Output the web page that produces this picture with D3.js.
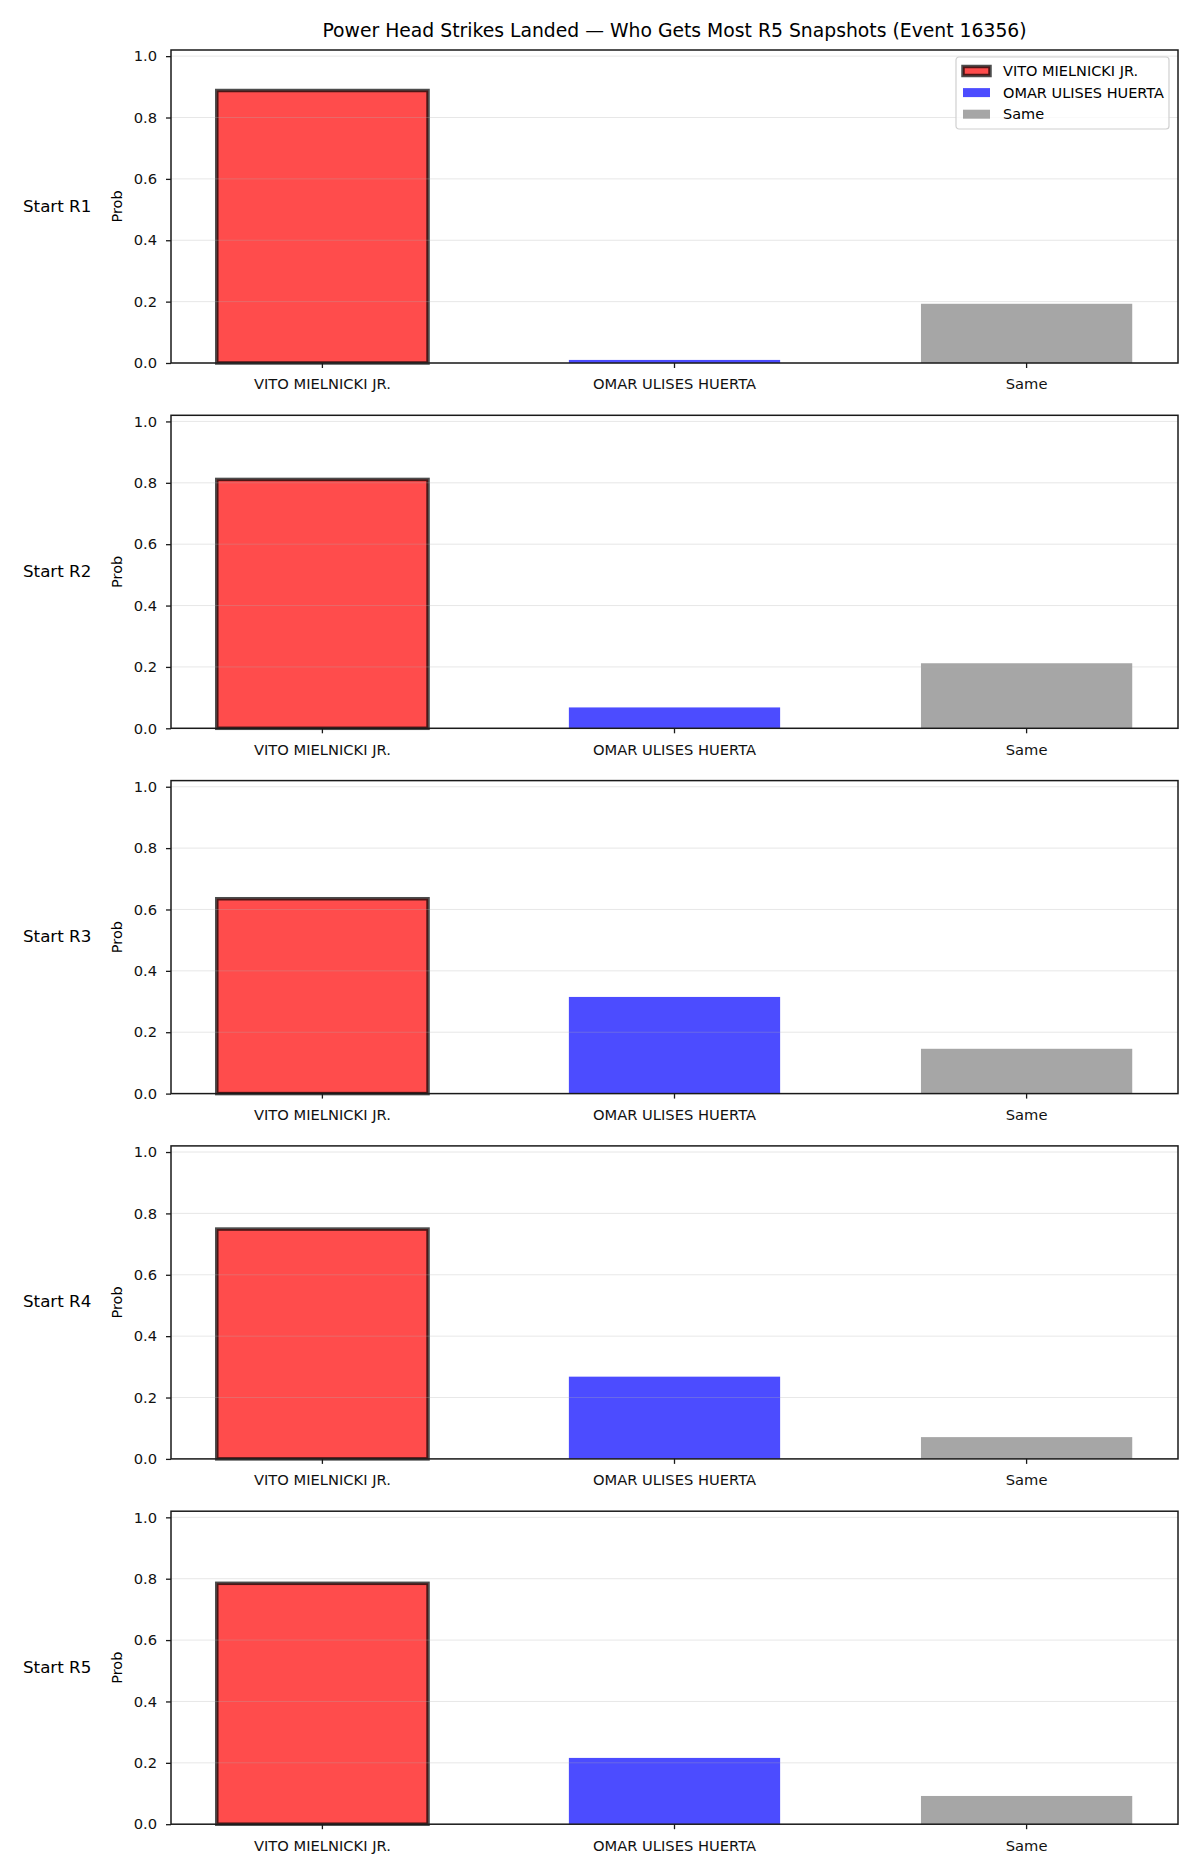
<!DOCTYPE html>
<html>
<head>
<meta charset="utf-8">
<script src="https://cdn.jsdelivr.net/npm/d3@7"></script>
<style>
  body { margin: 0; background: #fff; }
  svg { display: block; font-family: "DejaVu Sans", sans-serif; }
</style>
</head>
<body>
<svg id="chart"></svg>
<script>
const categories = ["VITO MIELNICKI JR.", "OMAR ULISES HUERTA", "Same"];
const rowLabels = ["Start R1", "Start R2", "Start R3", "Start R4", "Start R5"];
const vitoProb = [0.888, 0.811, 0.635, 0.749, 0.785];
const omarProb = [0.010, 0.068, 0.315, 0.268, 0.216];
const sameProb = [0.193, 0.212, 0.146, 0.071, 0.092];
const yTicks = [0, 0.2, 0.4, 0.6, 0.8, 1.0];
const titleText = "Power Head Strikes Landed \u2014 Who Gets Most R5 Snapshots (Event 16356)";

const width = 1200;
const height = 1875;

const axLeft = 171;
const axRight = 1178;
const axTop = 50;
const axHeight = 313;
const pitch = 365.3;

const fills = ["rgba(255,0,0,0.7)", "rgba(0,0,255,0.7)", "rgba(128,128,128,0.7)"];

const svg = d3.select("#chart")
  .attr("width", width)
  .attr("height", height);

const x = d3.scaleBand()
  .domain(categories)
  .range([axLeft, axRight])
  .paddingInner(0.4)
  .paddingOuter(0.13);

const y = d3.scaleLinear()
  .domain([0, 1.02])
  .range([axHeight, 0]);

svg.append("text")
  .attr("x", (axLeft + axRight) / 2)
  .attr("y", 37)
  .attr("text-anchor", "middle")
  .style("font-size", "18.8px")
  .text(titleText);

rowLabels.forEach((label, r) => {
  const values = [vitoProb[r], omarProb[r], sameProb[r]];
  const g = svg.append("g")
    .attr("transform", `translate(0, ${axTop + r * pitch})`);

  // bars
  g.selectAll("rect.bar")
    .data(categories)
    .enter()
    .append("rect")
    .attr("class", "bar")
    .attr("x", d => x(d))
    .attr("width", x.bandwidth())
    .attr("y", (d, i) => y(values[i]))
    .attr("height", (d, i) => y(0) - y(values[i]))
    .attr("fill", (d, i) => fills[i])
    .attr("stroke", (d, i) => i === 0 ? "rgba(0,0,0,0.7)" : "none")
    .attr("stroke-width", 3.5);

  // grid drawn over the bars
  g.selectAll("line.grid")
    .data(yTicks)
    .enter()
    .append("line")
    .attr("x1", axLeft)
    .attr("x2", axRight)
    .attr("y1", d => y(d))
    .attr("y2", d => y(d))
    .attr("stroke", "#b0b0b0")
    .attr("stroke-opacity", 0.3)
    .attr("stroke-width", 1);

  // frame
  g.append("rect")
    .attr("x", axLeft)
    .attr("y", 0)
    .attr("width", axRight - axLeft)
    .attr("height", axHeight)
    .attr("fill", "none")
    .attr("stroke", "#1a1a1a")
    .attr("stroke-width", 1.5);

  const yAxis = g.append("g")
    .attr("transform", `translate(${axLeft}, 0)`)
    .call(d3.axisLeft(y).tickValues(yTicks).tickFormat(d3.format(".1f")).tickSize(5).tickPadding(9));

  const xAxis = g.append("g")
    .attr("transform", `translate(0, ${axHeight})`)
    .call(d3.axisBottom(x).tickSize(5).tickPadding(11));

  [yAxis, xAxis].forEach(ax => {
    ax.select(".domain").remove();
    ax.selectAll("line").attr("stroke", "#1a1a1a").attr("stroke-width", 1.3);
    ax.selectAll("text").attr("fill", "#111").style("font-size", "14.7px").style("font-family", "DejaVu Sans");
  });

  g.append("text")
    .attr("transform", `translate(122, ${axHeight / 2}) rotate(-90)`)
    .attr("text-anchor", "middle")
    .style("font-size", "14.5px")
    .text("Prob");

  g.append("text")
    .attr("x", 23)
    .attr("y", axHeight / 2 + 5)
    .style("font-size", "16.7px")
    .text(label);
});

// legend in the first panel
const legend = svg.append("g")
  .attr("transform", `translate(956, 57)`);

legend.append("rect")
  .attr("width", 213)
  .attr("height", 72)
  .attr("rx", 3)
  .attr("fill", "rgba(255,255,255,0.8)")
  .attr("stroke", "#d0d0d0")
  .attr("stroke-width", 1.2);

const legendItems = legend.selectAll(".legend-item")
  .data(categories)
  .enter()
  .append("g")
  .attr("transform", (d, i) => `translate(0, ${14 + i * 21.6})`);

legendItems.append("rect")
  .attr("x", 7)
  .attr("y", -4.5)
  .attr("width", 27)
  .attr("height", 9)
  .attr("fill", (d, i) => fills[i])
  .attr("stroke", (d, i) => i === 0 ? "rgba(0,0,0,0.7)" : "none")
  .attr("stroke-width", 3.5);

legendItems.append("text")
  .attr("x", 47)
  .attr("y", 5)
  .style("font-size", "14.5px")
  .text(d => d);
</script>
</body>
</html>
